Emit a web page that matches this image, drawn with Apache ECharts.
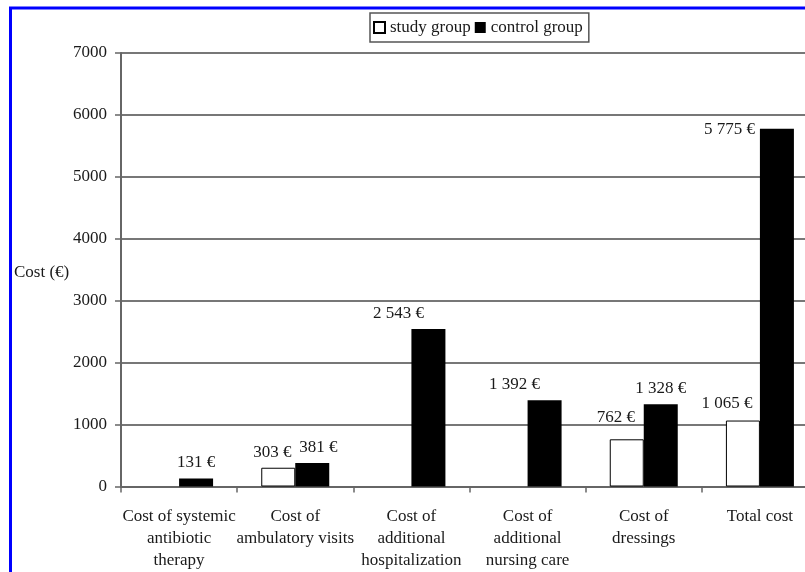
<!DOCTYPE html>
<html>
<head>
<meta charset="utf-8">
<style>
html,body{margin:0;padding:0;background:#fff;overflow:hidden;width:805px;height:572px;}
#chart{width:830px;height:572px;}
</style>
<script src="https://cdn.jsdelivr.net/npm/echarts@6/dist/echarts.min.js"></script>
</head>
<body>
<div id="chart"></div>
<script>
const categories = ['Cost of systemic\nantibiotic\ntherapy', 'Cost of\nambulatory visits', 'Cost of\nadditional\nhospitalization', 'Cost of\nadditional\nnursing care', 'Cost of\ndressings', 'Total cost'];
const studyGroup = [null, 303, null, null, 762, 1065];
const controlGroup = [131, 381, 2543, 1392, 1328, 5775];
const yTicks = [0, 1000, 2000, 3000, 4000, 5000, 6000, 7000];

// label offsets (style only)
const studyLabelOffset = [[0,0], [-6,0], [0,0], [0,0], [-11,-6], [-16,-2]];
const controlLabelOffset = [[0,0], [6,0], [-30,0], [-30,0], [0,0], [0,0]];

const FONT = '"Liberation Serif", "Times New Roman", serif';
const FS = 17;
const fmt = v => String(v).replace(/\B(?=(\d{3})+(?!\d))/g, ' ') + ' €';

const chart = echarts.init(document.getElementById('chart'), null, {renderer: 'canvas'});

const studyData = studyGroup.map((v, i) => ({
  value: v,
  label: {offset: studyLabelOffset[i]}
}));
const controlData = controlGroup.map((v, i) => {
  const d = {value: v, label: {offset: controlLabelOffset[i]}};
  if (i === 5) {
    d.label = {position: [-5, 1], align: 'right', verticalAlign: 'middle'};
  }
  return d;
});

const labelStyle = {
  show: true,
  position: 'top',
  distance: 7,
  fontFamily: FONT,
  fontSize: FS,
  color: '#1a1a1a',
  formatter: p => (p.value == null ? '' : fmt(p.value))
};

chart.setOption({
  animation: false,
  backgroundColor: '#fff',
  textStyle: {fontFamily: FONT},
  graphic: [
    {type: 'rect', shape: {x: 10.5, y: 8, width: 1000, height: 1000},
     style: {fill: 'none', stroke: '#0000ff', lineWidth: 3}},
    {type: 'text', left: 14, top: 264,
     style: {text: 'Cost (€)', font: FS + 'px ' + FONT, fill: '#1a1a1a'}}
  ],
  legend: {
    left: 370, top: 13,
    padding: [6, 6, 6, 3],
    borderColor: '#555', borderWidth: 1.5,
    itemWidth: 11, itemHeight: 11, itemGap: 4,
    icon: 'rect',
    textStyle: {fontFamily: FONT, fontSize: FS, color: '#1a1a1a'},
    data: ['study group', 'control group']
  },
  grid: {left: 121, right: 12, top: 53, bottom: 85.5, containLabel: false},
  xAxis: {
    type: 'category',
    data: categories,
    axisLine: {lineStyle: {color: '#666', width: 2}},
    axisTick: {show: true, length: 6, lineStyle: {color: '#666', width: 1.5}},
    axisLabel: {interval: 0, margin: 19, fontFamily: FONT, fontSize: FS, lineHeight: 22, color: '#1a1a1a'}
  },
  yAxis: {
    type: 'value',
    min: 0, max: 7000, interval: 1000,
    axisLine: {show: true, lineStyle: {color: '#666', width: 2}},
    axisTick: {show: true, length: 6, lineStyle: {color: '#666', width: 1.5}},
    axisLabel: {margin: 14, fontFamily: FONT, fontSize: FS, color: '#1a1a1a',
                formatter: v => yTicks.indexOf(v) >= 0 ? String(v) : ''},
    splitLine: {show: true, lineStyle: {color: '#777', width: 2}}
  },
  series: [
    {
      name: 'study group', type: 'bar',
      data: studyData,
      barWidth: 34, barGap: '0%',
      itemStyle: {color: '#fff', borderColor: '#000', borderWidth: 1},
      label: labelStyle
    },
    {
      name: 'control group', type: 'bar',
      data: controlData,
      barWidth: 34, barGap: '0%',
      itemStyle: {color: '#000', borderColor: '#000', borderWidth: 0},
      label: labelStyle
    }
  ]
});
</script>
</body>
</html>
